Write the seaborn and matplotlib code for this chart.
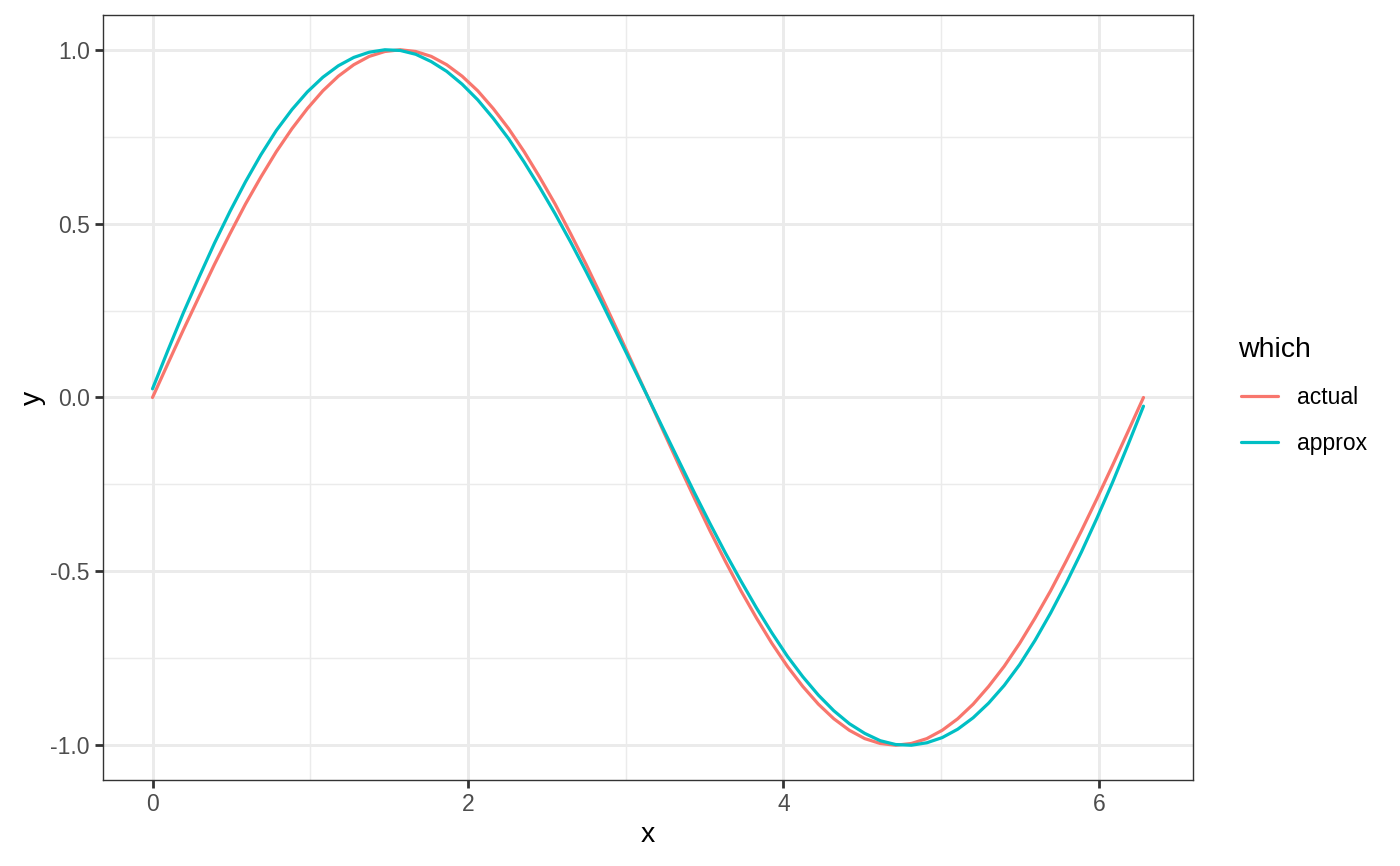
import matplotlib
matplotlib.use("Agg")
import matplotlib.pyplot as plt
from matplotlib.ticker import FixedLocator, FixedFormatter
import seaborn as sns
import pandas as pd

# ---- data ----
x_vals = [0.000, 0.098, 0.196, 0.295, 0.393, 0.491, 0.589, 0.687, 0.785, 0.884,
          0.982, 1.080, 1.178, 1.276, 1.374, 1.473, 1.571, 1.669, 1.767, 1.865,
          1.963, 2.062, 2.160, 2.258, 2.356, 2.454, 2.553, 2.651, 2.749, 2.847,
          2.945, 3.043, 3.142, 3.240, 3.338, 3.436, 3.534, 3.632, 3.731, 3.829,
          3.927, 4.025, 4.123, 4.222, 4.320, 4.418, 4.516, 4.614, 4.712, 4.811,
          4.909, 5.007, 5.105, 5.203, 5.301, 5.400, 5.498, 5.596, 5.694, 5.792,
          5.890, 5.989, 6.087, 6.185, 6.283]
actual = [0.000, 0.098, 0.195, 0.290, 0.383, 0.471, 0.556, 0.634, 0.707, 0.773,
          0.831, 0.882, 0.924, 0.957, 0.981, 0.995, 1.000, 0.995, 0.981, 0.957,
          0.924, 0.882, 0.831, 0.773, 0.707, 0.634, 0.556, 0.471, 0.383, 0.290,
          0.195, 0.098, 0.000, -0.098, -0.195, -0.290, -0.383, -0.471, -0.556, -0.634,
          -0.707, -0.773, -0.831, -0.882, -0.924, -0.957, -0.981, -0.995, -1.000, -0.995,
          -0.981, -0.957, -0.924, -0.882, -0.831, -0.773, -0.707, -0.634, -0.556, -0.471,
          -0.383, -0.290, -0.195, -0.098, 0.000]
approx = [0.025, 0.136, 0.244, 0.346, 0.444, 0.535, 0.620, 0.698, 0.768, 0.828,
          0.879, 0.921, 0.954, 0.978, 0.993, 1.000, 0.998, 0.987, 0.966, 0.938,
          0.901, 0.856, 0.803, 0.744, 0.677, 0.605, 0.528, 0.447, 0.362, 0.274,
          0.183, 0.092, 0.000, -0.092, -0.183, -0.274, -0.362, -0.447, -0.528, -0.605,
          -0.677, -0.744, -0.803, -0.856, -0.901, -0.938, -0.966, -0.987, -0.998, -1.000,
          -0.993, -0.978, -0.954, -0.921, -0.879, -0.828, -0.768, -0.698, -0.620, -0.535,
          -0.444, -0.346, -0.244, -0.136, -0.025]
series_names = ["actual", "approx"]
series_colors = ["#F8766D", "#00BFC4"]

x_ticks = [0, 2, 4, 6]
x_tick_labels = ["0", "2", "4", "6"]
x_minor = [1, 3, 5]
y_ticks = [-1.0, -0.5, 0.0, 0.5, 1.0]
y_tick_labels = ["-1.0", "-0.5", "0.0", "0.5", "1.0"]
y_minor = [-0.75, -0.25, 0.25, 0.75]

df = pd.concat([
    pd.DataFrame({"x": x_vals, "y": actual, "which": series_names[0]}),
    pd.DataFrame({"x": x_vals, "y": approx, "which": series_names[1]}),
], ignore_index=True)

sns.set_theme(style="white")
plt.rcParams["font.family"] = ["Liberation Sans", "DejaVu Sans"]
plt.rcParams["axes.unicode_minus"] = False

W, H = 1400, 866
fig = plt.figure(figsize=(W / 100, H / 100), dpi=100)
ax = fig.add_axes([103 / W, 1 - 780 / H, (1193 - 103) / W, (780 - 15) / H])
ax.set_facecolor("white")

sns.lineplot(data=df, x="x", y="y", hue="which", hue_order=series_names,
             palette=series_colors, linewidth=2.3, estimator=None, sort=False,
             ax=ax)

ax.set_xlim(-0.314, 6.597)
ax.set_ylim(-1.1, 1.1)

ax.xaxis.set_major_locator(FixedLocator(x_ticks))
ax.xaxis.set_major_formatter(FixedFormatter(x_tick_labels))
ax.xaxis.set_minor_locator(FixedLocator(x_minor))
ax.yaxis.set_major_locator(FixedLocator(y_ticks))
ax.yaxis.set_major_formatter(FixedFormatter(y_tick_labels))
ax.yaxis.set_minor_locator(FixedLocator(y_minor))

ax.set_axisbelow(True)
ax.grid(which="major", color="#EBEBEB", linewidth=2.1)
ax.grid(which="minor", color="#EBEBEB", linewidth=1.05)

for sp in ax.spines.values():
    sp.set_color("#333333")
    sp.set_linewidth(1.0)
    sp.set_visible(True)

ax.tick_params(which="major", length=5.5, width=2.0, color="#333333",
               labelsize=16.5, labelcolor="#4D4D4D", pad=4,
               bottom=True, left=True)
ax.tick_params(which="minor", length=0)

ax.set_xlabel("x", fontsize=20.5, color="black", labelpad=4)
ax.set_ylabel("y", fontsize=20.5, color="black", labelpad=3)

handles, labels = ax.get_legend_handles_labels()
leg = ax.legend(handles, labels, title="which", loc="upper left",
                bbox_to_anchor=(1241 / W, 1 - 337 / H),
                bbox_transform=fig.transFigure, frameon=False,
                fontsize=16.5, title_fontsize=20.5, borderpad=0,
                borderaxespad=0, handlelength=1.6, handletextpad=0.85,
                labelspacing=1.0)
leg._legend_box.align = "left"
leg.get_title().set_position((-3, 0))
leg.get_title().set_color("black")
for t in leg.get_texts():
    t.set_color("black")
for ln in leg.get_lines():
    ln.set_linewidth(2.3)

fig.savefig("out.png", dpi=100, facecolor="white")
